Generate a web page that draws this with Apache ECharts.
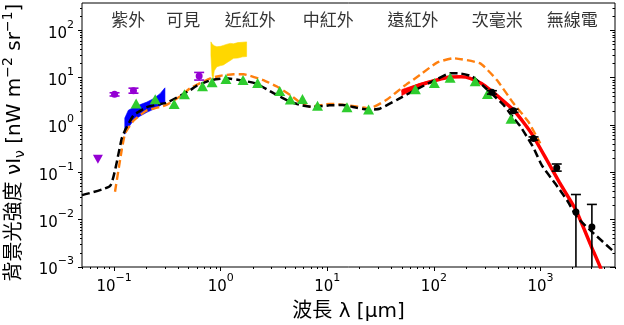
<!DOCTYPE html>
<html><head><meta charset="utf-8">
<script src="https://cdn.jsdelivr.net/npm/echarts@6/dist/echarts.min.js"></script>
<style>html,body{margin:0;padding:0;background:#fff}#c{width:624px;height:325px}</style>
</head><body><div id="c"></div>
<script>
// ---------------- data (wavelength in µm, intensity in nW m^-2 sr^-1) ----------------
const xTickExp = [-1, 0, 1, 2, 3];
const yTickExp = [-3, -2, -1, 0, 1, 2];
const xRange = [0.05, 5000];
const yRange = [0.001, 378];

const modelWave = [0.05, 0.092, 0.112, 0.118, 0.125, 0.132, 0.152, 0.2, 0.25, 0.31, 0.42, 0.52, 0.6, 0.8, 1.14, 1.64, 2.19, 3.13, 4.5, 5.6, 7.4, 10.5, 14, 19, 25, 31, 45, 69, 107, 142, 180, 230, 314, 450, 560, 645, 771, 860, 1030, 1374, 1770, 2195, 2925, 5000];
const modelFlux = [0.033, 0.052, 0.30, 0.52, 0.72, 0.92, 1.6, 2.35, 2.7, 2.95, 4.2, 5.5, 6.8, 8.8, 9.7, 8.6, 7.4, 4.7, 3.1, 2.65, 2.4, 2.6, 2.65, 2.3, 2.1, 2.2, 3.4, 5.7, 9.3, 12.4, 12.2, 10.5, 5.7, 2.65, 1.4, 0.95, 0.5, 0.33, 0.14, 0.058, 0.026, 0.0114, 0.006, 0.002];

const altWave = [0.102, 0.118, 0.127, 0.152, 0.2, 0.31, 0.42, 0.52, 0.8, 1.0, 1.32, 1.64, 2.5, 3.37, 4.5, 5.6, 6.9, 10.6, 15, 25, 36, 52, 74, 107, 152, 272, 390, 558, 770, 994];
const altFlux = [0.039, 0.3, 0.67, 1.23, 2.0, 2.65, 4.1, 6.0, 9.7, 11.0, 11.8, 11.8, 8.9, 6.5, 4.3, 2.96, 2.44, 2.8, 2.65, 2.25, 3.4, 6.5, 11.4, 20.8, 25.7, 20, 8.9, 2.87, 1.17, 0.41];

const redWave = [50, 74, 107, 142, 180, 219, 280, 337, 450, 558, 700, 860, 1150, 1500, 2150, 3000, 3630, 4000];
const redFlux = [4.9, 7.0, 8.9, 10.3, 10.4, 9.7, 7.5, 5.5, 3.2, 2.07, 1.1, 0.57, 0.18, 0.062, 0.016, 0.0027, 0.001, 0.0005];
const redBandWave = [50, 74, 100];
const redBandLow = [4.2, 6.4, 8.4];
const redBandHigh = [5.6, 7.6, 9.0];

const blueWave = [0.126, 0.136, 0.152, 0.176, 0.203, 0.234, 0.27, 0.30];
const blueLow = [0.64, 0.88, 1.25, 1.55, 1.85, 2.15, 2.55, 3.0];
const blueHigh = [1.4, 2.05, 2.35, 2.7, 3.05, 3.6, 4.6, 6.1];

const yellowWave = [0.81, 0.83, 0.85, 0.87, 0.92, 1.0, 1.06, 1.15, 1.23, 1.32, 1.45, 1.6, 1.75];
const yellowLow = [30, 11, 9.7, 14, 17, 18, 18.6, 21, 23, 25.7, 26, 27.5, 28];
const yellowHigh = [57, 52, 49, 47, 45, 46, 48, 51, 53, 52, 55, 56, 57];

const triWave = [0.161, 0.243, 0.366, 0.457, 0.675, 0.83, 1.12, 1.62, 2.22, 3.58, 4.5, 5.85, 8.1, 15.3, 24.4, 67, 101, 142, 244, 318, 529];
const triFlux = [2.85, 3.5, 2.78, 4.45, 6.6, 8.0, 9.35, 8.9, 7.7, 5.25, 3.45, 3.55, 2.55, 2.37, 2.12, 5.7, 7.7, 10.0, 8.4, 4.5, 1.36];

const uvWave = [0.101, 0.152, 0.628];
const uvFlux = [4.46, 5.3, 10.9];
const uvLow = [4.1, 4.7, 8.9];
const uvHigh = [4.8, 6.0, 12.9];
const uvLimitWave = [0.0705];
const uvLimitFlux = [0.188];

const mmWave = [350, 558, 860, 1420, 2150, 3035];
const mmFlux = [4.9, 2.0, 0.52, 0.125, 0.0145, 0.007];
const mmLow = [4.5, 1.85, 0.48, 0.106, 0.00001, 0.00001];
const mmHigh = [5.3, 2.15, 0.56, 0.15, 0.034, 0.021];

const regionNames = ['紫外', '可見', '近紅外', '中紅外', '遠紅外', '次毫米', '無線電'];
const regionWave = [0.136, 0.445, 1.89, 10.2, 63.7, 393, 1983];
const regionFlux = [166, 166, 166, 166, 166, 166, 166];

// ---------------- chart ----------------
const L = Math.log10;
const minorX = [], minorY = [];
for (let e = -3; e <= 4; e++) for (let k = 2; k <= 9; k++) {
  const v = k * Math.pow(10, e);
  if (v >= xRange[0] && v <= xRange[1]) minorX.push(L(v));
  if (v >= yRange[0] && v <= yRange[1]) minorY.push(L(v));
}
const sup = n => (n < 0 ? '\u2212' : '') + Math.abs(n);
const FONT = "'DejaVu Sans', 'Noto Sans CJK TC', sans-serif";
const tickRich = {
  b: { fontSize: 15, fontFamily: FONT, color: '#000', lineHeight: 22, verticalAlign: 'bottom' },
  s: { fontSize: 11, fontFamily: FONT, color: '#000', lineHeight: 11, verticalAlign: 'top' }
};
const tickFmt = v => '{b|10}{s|' + sup(Math.round(v)) + '}';

function valAxis(range, extra) {
  return Object.assign({
    type: 'value', min: L(range[0]), max: L(range[1]),
    splitLine: { show: false }, axisLine: { show: false, onZero: false },
  }, extra);
}

const xAxes = [
  valAxis(xRange, {
    position: 'bottom',
    axisTick: { show: true, customValues: xTickExp, length: 4, lineStyle: { color: '#000', width: 1 } },
    axisLabel: { customValues: xTickExp, formatter: tickFmt, rich: tickRich, margin: 6 },
    name: '波長 λ [μm]', nameLocation: 'middle', nameGap: 35,
    nameTextStyle: { fontSize: 20, fontFamily: FONT, color: '#000' }
  }),
  valAxis(xRange, {
    position: 'bottom',
    axisTick: { show: true, customValues: minorX, length: 2, lineStyle: { color: '#000', width: 1 } },
    axisLabel: { show: false }
  })
];
const yName = '{c|背景光強度 }{m|νI}{sub|ν}{m| [nW m}{sup|\u22122}{m| sr}{sup|\u22121}{m|]}';
const yAxes = [
  valAxis(yRange, {
    position: 'left',
    axisTick: { show: true, customValues: yTickExp, length: 4, lineStyle: { color: '#000', width: 1 } },
    axisLabel: { customValues: yTickExp, formatter: tickFmt, rich: tickRich, margin: 8 },
    name: yName, nameLocation: 'middle', nameRotate: 90, nameGap: 52,
    nameTextStyle: {
      padding: [0, 15, 0, 0],
      rich: {
        c: { fontSize: 20, fontFamily: FONT, color: '#000', lineHeight: 26, verticalAlign: 'middle' },
        m: { fontSize: 20, fontFamily: FONT, color: '#000', lineHeight: 26, verticalAlign: 'middle' },
        sub: { fontSize: 14, fontFamily: FONT, color: '#000', lineHeight: 17, verticalAlign: 'bottom' },
        sup: { fontSize: 14, fontFamily: FONT, color: '#000', lineHeight: 14, verticalAlign: 'top' }
      }
    }
  }),
  valAxis(yRange, {
    position: 'left',
    axisTick: { show: true, customValues: minorY, length: 2, lineStyle: { color: '#000', width: 1 } },
    axisLabel: { show: false }
  }),
  valAxis(yRange, {
    position: 'right',
    axisTick: { show: true, inside: true, customValues: yTickExp, length: 5, lineStyle: { color: '#000', width: 1 } },
    axisLabel: { show: false }
  }),
  valAxis(yRange, {
    position: 'right',
    axisTick: { show: true, inside: true, customValues: minorY, length: 2.5, lineStyle: { color: '#000', width: 1 } },
    axisLabel: { show: false }
  })
];

function bandSeries(wave, lo, hi, color, z) {
  return {
    type: 'custom', coordinateSystem: 'cartesian2d', xAxisIndex: 0, yAxisIndex: 0, clip: true, z: z, silent: true,
    data: wave.map((w, i) => [L(w), L(lo[i]), L(hi[i])]),
    renderItem: function (params, api) {
      if (params.dataIndexInside !== 0) return { type: 'group', children: [] };
      const pts = [];
      for (let i = 0; i < wave.length; i++) pts.push(api.coord([L(wave[i]), L(hi[i])]));
      for (let i = wave.length - 1; i >= 0; i--) pts.push(api.coord([L(wave[i]), L(lo[i])]));
      return { type: 'polygon', shape: { points: pts }, style: { fill: color, stroke: color, lineWidth: 0.6 } };
    }
  };
}
function errSeries(wave, lo, hi, color, z) {
  return {
    type: 'custom', coordinateSystem: 'cartesian2d', xAxisIndex: 0, yAxisIndex: 0, clip: true, z: z, silent: true,
    data: wave.map((w, i) => [L(w), L(lo[i]), L(hi[i])]),
    renderItem: function (params, api) {
      const x = api.value(0);
      const b = api.coord([x, api.value(1)]);
      const t = api.coord([x, api.value(2)]);
      const hw = 5, st = { stroke: color, lineWidth: 1.6 };
      return { type: 'group', children: [
        { type: 'line', shape: { x1: t[0], y1: t[1], x2: b[0], y2: b[1] }, style: st },
        { type: 'line', shape: { x1: t[0] - hw, y1: t[1], x2: t[0] + hw, y2: t[1] }, style: st },
        { type: 'line', shape: { x1: b[0] - hw, y1: b[1], x2: b[0] + hw, y2: b[1] }, style: st }
      ] };
    }
  };
}
const pts = (w, f) => w.map((x, i) => [L(x), L(f[i])]);

const option = {
  animation: false,
  backgroundColor: '#fff',
  grid: { left: 82, right: 9, top: 3, bottom: 58, show: true, borderColor: '#000', borderWidth: 1, containLabel: false, outerBoundsMode: 'none' },
  xAxis: xAxes,
  yAxis: yAxes,
  series: [
    bandSeries(yellowWave, yellowLow, yellowHigh, '#ffd700', 2),
    bandSeries(blueWave, blueLow, blueHigh, '#0000ff', 2),
    bandSeries(redBandWave, redBandLow, redBandHigh, '#ff0000', 3),
    { type: 'line', data: pts(redWave, redFlux), symbol: 'none', smooth: 0.15, clip: true, z: 3,
      lineStyle: { color: '#ff0000', width: 3.5 } },
    { type: 'line', data: pts(altWave, altFlux), symbol: 'none', smooth: 0.15, clip: true, z: 4,
      lineStyle: { color: '#ff7f0e', width: 2.4, type: [8, 4] } },
    { type: 'line', data: pts(modelWave, modelFlux), symbol: 'none', smooth: 0.15, clip: true, z: 5,
      lineStyle: { color: '#000', width: 2.5, type: [8, 4] } },
    { type: 'scatter', data: pts(triWave, triFlux), symbol: 'triangle', symbolSize: [11, 10], z: 6,
      itemStyle: { color: '#2ecc2e', opacity: 1 } },
    errSeries(uvWave, uvLow, uvHigh, '#9400d3', 7),
    { type: 'scatter', data: pts(uvWave, uvFlux), symbol: 'circle', symbolSize: 7, z: 7, itemStyle: { color: '#9400d3', opacity: 1 } },
    { type: 'scatter', data: pts(uvLimitWave, uvLimitFlux), symbol: 'triangle', symbolRotate: 180, symbolSize: [10, 9], z: 7, itemStyle: { color: '#9400d3', opacity: 1 } },
    errSeries(mmWave, mmLow, mmHigh, '#000', 8),
    { type: 'scatter', data: pts(mmWave, mmFlux), symbol: 'circle', symbolSize: 7, z: 8, itemStyle: { color: '#000', opacity: 1 } },
    { type: 'scatter', silent: true, z: 9,
      data: regionWave.map((w, i) => [L(w), L(regionFlux[i]), regionNames[i]]),
      symbolSize: 0, itemStyle: { color: 'transparent' },
      label: { show: true, position: 'inside', formatter: p => p.data[2], fontSize: 17,
        fontFamily: "'Noto Sans CJK TC', sans-serif", color: '#000' } }
  ]
};
const chart = echarts.init(document.getElementById('c'), null, { renderer: 'canvas' });
chart.setOption(option);
</script></body></html>
